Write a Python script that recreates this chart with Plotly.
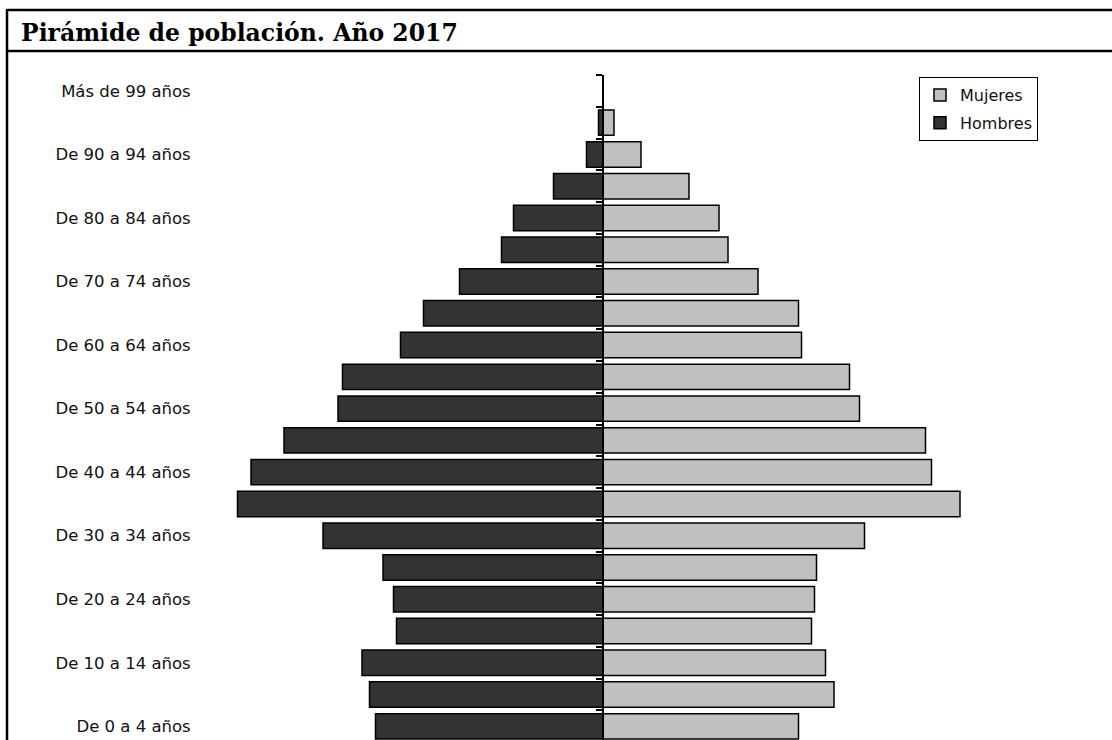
import plotly.graph_objects as go

# ---- data ----
grupos_edad = [
    "De 0 a 4 años", "De 5 a 9 años", "De 10 a 14 años", "De 15 a 19 años",
    "De 20 a 24 años", "De 25 a 29 años", "De 30 a 34 años", "De 35 a 39 años",
    "De 40 a 44 años", "De 45 a 49 años", "De 50 a 54 años", "De 55 a 59 años",
    "De 60 a 64 años", "De 65 a 69 años", "De 70 a 74 años", "De 75 a 79 años",
    "De 80 a 84 años", "De 85 a 89 años", "De 90 a 94 años", "De 95 a 99 años",
    "Más de 99 años",
]
hombres = [455, 467, 482, 413, 419, 440, 560, 731, 704, 638, 530, 521,
           405, 359, 287, 203, 179, 99, 33, 9, 0]
mujeres = [391, 462, 445, 417, 423, 427, 523, 714, 657, 645, 513, 493,
           397, 391, 310, 250, 232, 172, 76, 22, 0]
etiquetas_eje = [
    "De 0 a 4 años", "De 10 a 14 años", "De 20 a 24 años", "De 30 a 34 años",
    "De 40 a 44 años", "De 50 a 54 años", "De 60 a 64 años", "De 70 a 74 años",
    "De 80 a 84 años", "De 90 a 94 años", "Más de 99 años",
]
titulo = "Pirámide de población. Año 2017"

# ---- layout constants (pixels) ----
W, H = 1112, 740
ML, MR, MT, MB = 200, 0, 75, 0
PW, PH = W - ML - MR, H - MT - MB
CENTER_PX = 603
X_MIN = -(CENTER_PX - ML) * 2
X_MAX = (W - MR - CENTER_PX) * 2
Y_RANGE = [-0.43, 20.5]


def px_x(px):
    return (px - ML) / PW


def px_y(py):
    return 1 - (py - MT) / PH


sans = "DejaVu Sans, Verdana, sans-serif"

fig = go.Figure()
fig.add_trace(go.Bar(
    y=grupos_edad, x=mujeres, orientation="h", name="Mujeres",
    legendgroup="m",
    marker=dict(color="#C0C0C0", line=dict(color="black", width=1.5)),
    xaxis="x", yaxis="y2",
))
fig.add_trace(go.Bar(
    y=grupos_edad, x=[-v for v in hombres], orientation="h", name="Hombres",
    legendgroup="h",
    marker=dict(color="#333333", line=dict(color="black", width=1.5)),
    xaxis="x", yaxis="y",
))

fig.update_layout(
    width=W, height=H,
    margin=dict(l=ML, r=MR, t=MT, b=MB, pad=0),
    paper_bgcolor="white", plot_bgcolor="white",
    bargap=0.2, barmode="overlay",
    font=dict(family=sans, size=16, color="black"),
    title=dict(
        text=titulo, xref="container", yref="container",
        x=21 / W, xanchor="left", y=1 - 33 / H, yanchor="middle",
        font=dict(family="Palatino Linotype, Book Antiqua, Palatino, DejaVu Serif, serif",
                  size=23.5, color="black", weight="bold"),
    ),
    xaxis=dict(range=[X_MIN, X_MAX], showticklabels=False, showgrid=False,
               zeroline=False, showline=False, fixedrange=True),
    yaxis=dict(
        type="category", categoryorder="array", categoryarray=grupos_edad,
        range=Y_RANGE, tickmode="array", tickvals=etiquetas_eje, ticktext=etiquetas_eje,
        ticks="outside", ticklen=5, tickcolor="rgba(0,0,0,0)",
        showgrid=False, showline=False, zeroline=False,
        tickfont=dict(family=sans, size=16.5, color="#111111"),
    ),
    yaxis2=dict(
        type="category", categoryorder="array", categoryarray=grupos_edad,
        range=Y_RANGE, overlaying="y", anchor="free", position=px_x(CENTER_PX),
        side="left", showticklabels=False, tickmode="linear", dtick=1,
        tickson="boundaries", ticks="outside", ticklen=6, tickwidth=1.5,
        tickcolor="black", showline=True, linecolor="black", linewidth=2,
        showgrid=False, zeroline=False,
    ),
    legend=dict(
        x=px_x(919), y=px_y(77), xanchor="left", yanchor="top",
        bordercolor="black", borderwidth=1, bgcolor="white",
        font=dict(family=sans, size=16, color="#111111"),
        itemwidth=30, traceorder="grouped", tracegroupgap=4,
    ),
    shapes=[
        dict(type="line", xref="paper", yref="paper",
             x0=px_x(7), x1=px_x(W + 5), y0=px_y(10), y1=px_y(10),
             line=dict(color="black", width=2.5)),
        dict(type="line", xref="paper", yref="paper",
             x0=px_x(7), x1=px_x(W + 5), y0=px_y(51), y1=px_y(51),
             line=dict(color="black", width=2.5)),
        dict(type="line", xref="paper", yref="paper",
             x0=px_x(7), x1=px_x(7), y0=px_y(9), y1=px_y(H + 5),
             line=dict(color="black", width=2.5)),
    ],
    showlegend=True,
)

fig.write_html(
    "out.html",
    config={"displayModeBar": False},
    post_script="document.body.style.margin='0';document.body.style.overflow='hidden';",
)
